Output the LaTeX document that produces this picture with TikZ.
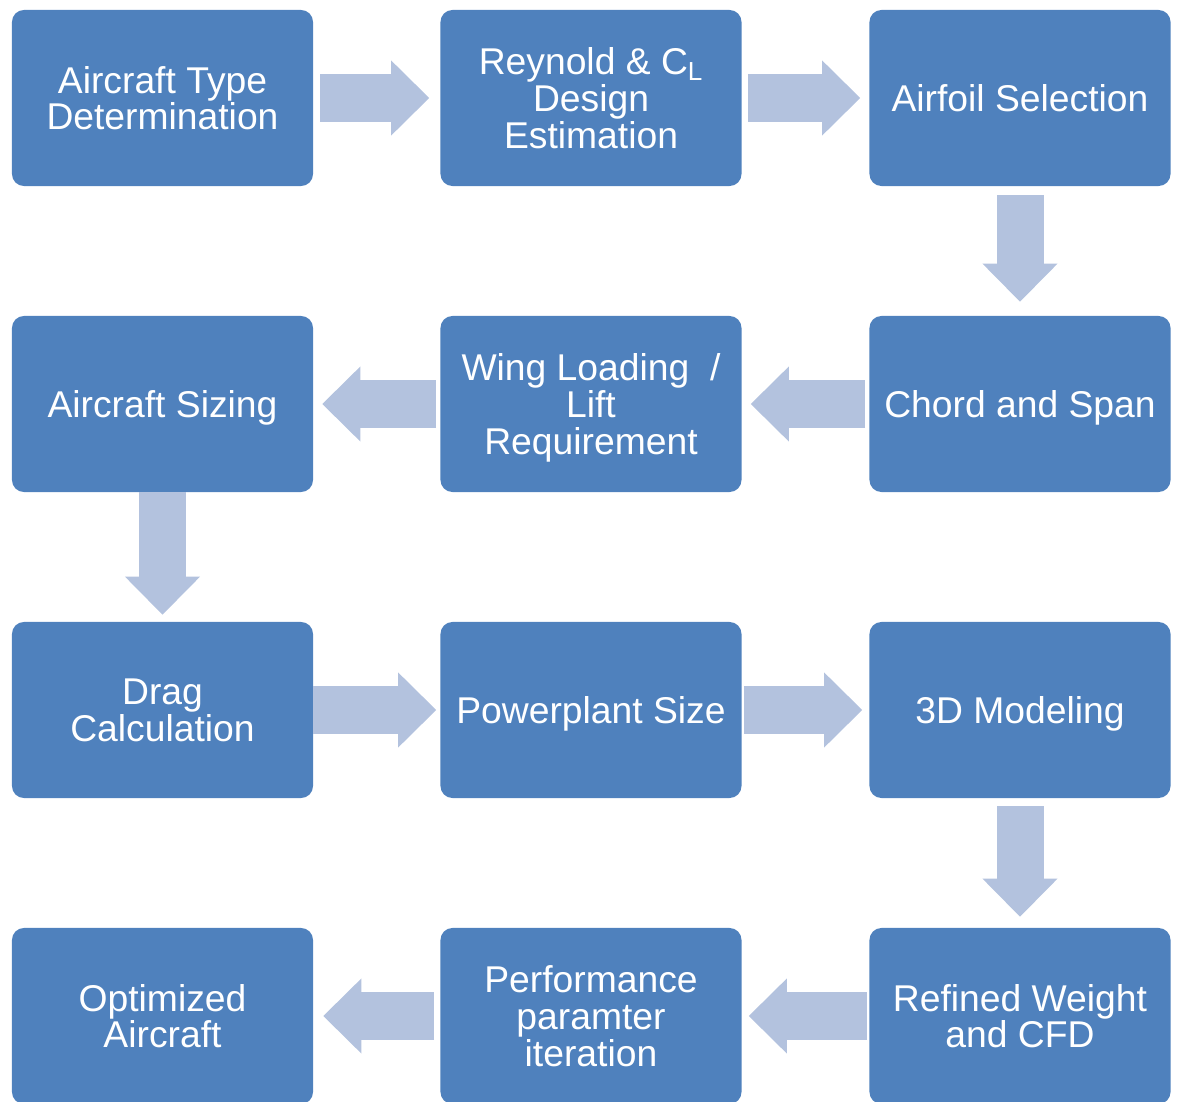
\documentclass[tikz,border=0pt]{standalone}
\usepackage{fontspec}
\setmainfont{Liberation Sans}
\usetikzlibrary{arrows.meta,positioning}
\definecolor{boxblue}{HTML}{4F81BD}
\definecolor{arrowblue}{HTML}{B3C2DE}

\begin{document}
\begin{tikzpicture}[x=0.025cm,y=-0.025cm,
  stage/.style={fill=boxblue, rounded corners=0.3cm, minimum width=7.525cm, minimum height=4.4cm, inner sep=0pt, text depth=0pt, text=white, align=center, font=\fontsize{26.5}{26.3}\selectfont},
  flow/.style={draw=arrowblue, line width=1.175cm, line cap=butt, -{Triangle[length=0.95cm, width=1.875cm, line width=0pt]}}]
% Design process
\useasboundingbox (0,0) rectangle (1179,1102);
\node[stage] (typedet) at (162.5,98) {Aircraft Type\\Determination};
\node[stage] (reynold) at (591,98) {Reynold \& C\textsubscript{L}\\Design\\Estimation};
\node[stage] (airfoil) at (1020,98) {Airfoil Selection};
\node[stage] (chord) at (1020,404) {Chord and Span};
\node[stage] (wingload) at (591,404) {Wing Loading\ \ /\\Lift\\Requirement};
\node[stage] (sizing) at (162.5,404) {Aircraft Sizing};
\node[stage] (drag) at (162.5,710) {Drag\\Calculation};
\node[stage] (powerplant) at (591,710) {Powerplant Size};
\node[stage] (modeling) at (1020,710) {3D Modeling};
\node[stage] (refined) at (1020,1016) {Refined Weight\\and CFD};
\node[stage] (performance) at (591,1016) {Performance\\paramter\\iteration};
\node[stage] (optimized) at (162.5,1016) {Optimized\\Aircraft};

\draw[flow, shorten <=0.175cm, shorten >=0.275cm] (typedet.east) -- (reynold.west);
\draw[flow, shorten <=0.15cm, shorten >=0.225cm] (reynold.east) -- (airfoil.west);
\draw[flow, shorten <=0.225cm, shorten >=0.35cm] (airfoil.south) -- (chord.north);
\draw[flow, shorten <=0.1cm, shorten >=0.225cm] (chord.west) -- (wingload.east);
\draw[flow, shorten <=0.1cm, shorten >=0.225cm] (wingload.west) -- (sizing.east);
\draw[flow, shorten <=0cm, shorten >=0.175cm] (sizing.south) -- (drag.north);
\draw[flow, shorten <=0cm, shorten >=0.1cm] (drag.east) -- (powerplant.west);
\draw[flow, shorten <=0.05cm, shorten >=0.175cm] (powerplant.east) -- (modeling.west);
\draw[flow, shorten <=0.2cm, shorten >=0.275cm] (modeling.south) -- (refined.north);
\draw[flow, shorten <=0.05cm, shorten >=0.175cm] (refined.west) -- (performance.east);
\draw[flow, shorten <=0.15cm, shorten >=0.25cm] (performance.west) -- (optimized.east);
\end{tikzpicture}
\end{document}
